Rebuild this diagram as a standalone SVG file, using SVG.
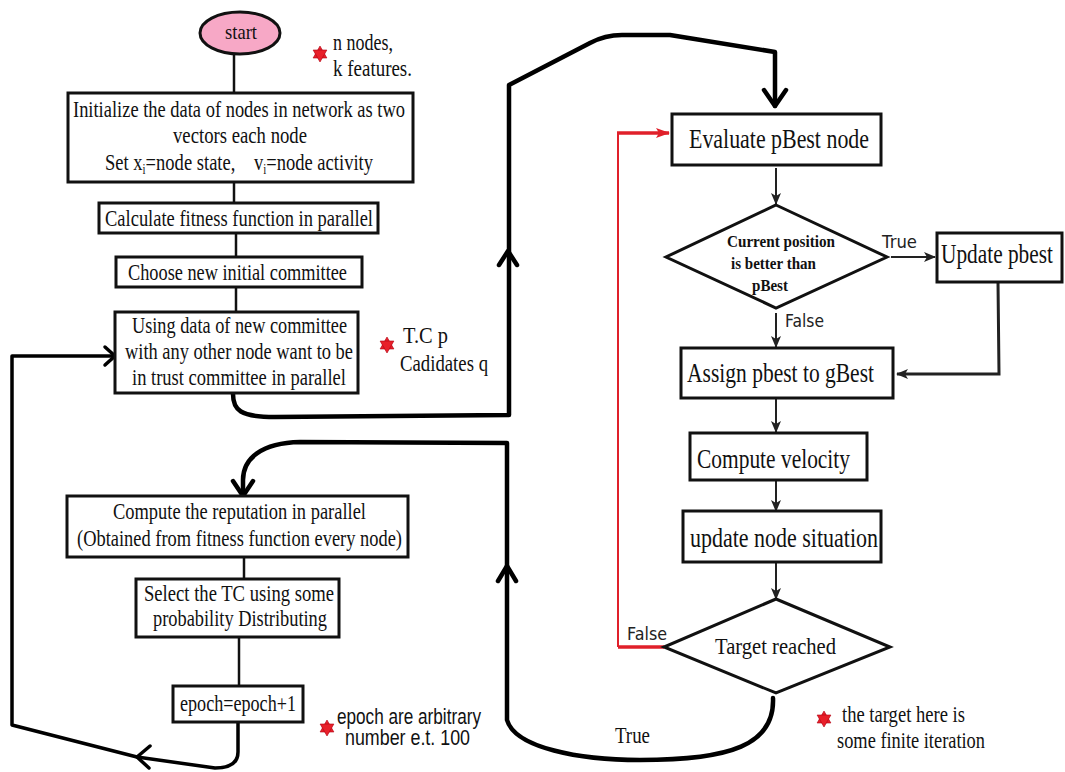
<svg xmlns="http://www.w3.org/2000/svg" xmlns:xlink="http://www.w3.org/1999/xlink" width="1065" height="772" viewBox="0 0 1065 772">
  <style>
    .box { fill: #ffffff; stroke: #111; stroke-width: 3; }
    .dia { fill: #ffffff; stroke: #111; stroke-width: 3; stroke-linejoin: miter; }
    .t { font-family: "Liberation Serif", "Times New Roman", serif; font-size: 24px; fill: #111; }
    .big { font-size: 27px; }
    .tb { font-family: "Liberation Serif", "Times New Roman", serif; font-size: 16px; font-weight: bold; fill: #111; }
    .s { font-family: "DejaVu Sans", "Liberation Sans", sans-serif; font-size: 17px; fill: #222; }
    .n { font-family: "Liberation Sans", Arial, sans-serif; font-size: 22px; fill: #111; }
    .ln { fill: none; stroke: #111; stroke-width: 2.5; }
    .thick { fill: none; stroke: #000; stroke-width: 4.5; stroke-linejoin: round; stroke-linecap: round; }
    .thin { fill: none; stroke: #222; stroke-width: 2; }
    .red { fill: none; stroke: #e0202a; }
  </style>
  <defs>
    <marker id="ah" viewBox="0 0 12 10" refX="11" refY="5" markerWidth="12" markerHeight="10" markerUnits="userSpaceOnUse" orient="auto">
      <path d="M0,0 L12,5 L0,10 L3,5 z" fill="#222"/>
    </marker>
    <marker id="ahRed" viewBox="0 0 14 10" refX="13" refY="5" markerWidth="14" markerHeight="10" markerUnits="userSpaceOnUse" orient="auto">
      <path d="M0,0 L14,5 L0,10 L3,5 z" fill="#e0202a"/>
    </marker>
    <!-- six-pointed note marker -->
    <g id="hex">
      <polygon points="0,-8 6.9,4 -6.9,4" fill="#e8202a" stroke="#b00010" stroke-width="0.6"/>
      <polygon points="0,8 6.9,-4 -6.9,-4" fill="#e8202a" stroke="#b00010" stroke-width="0.6"/>
    </g>
  </defs>

  <rect width="1065" height="772" fill="#ffffff"/>

  <!-- connectors -->
  <g id="connectors">
    <!-- main left column -->
    <line class="ln" x1="234" y1="55" x2="234" y2="93"/>
    <line class="ln" x1="234" y1="182" x2="234" y2="203"/>
    <line class="ln" x1="236" y1="233" x2="236" y2="257"/>
    <line class="ln" x1="236" y1="287" x2="236" y2="312"/>
    <line class="ln" x1="244" y1="557" x2="244" y2="579"/>
    <line class="ln" x1="239" y1="637" x2="239" y2="686"/>

    <!-- committee to PSO loop -->
    <path class="thick" d="M233,394 C233,410 240,417 275,417 L509,415 L509,85 L590,43 Q605,35 622,35 L670,35 L775,52 L775,106"/>
    <path class="thick" d="M764,90 L775,106 L786,90"/>
    <path class="thick" d="M499,265 L508,251 L517,265"/>

    <!-- target reached (True) back to reputation -->
    <path class="thick" d="M773,698 C775,745 730,760 640,760 C580,760 515,748 507,720 L507,443 L300,442 C262,443 243,458 243,480 L243,495"/>
    <path class="thick" d="M233,481 L243,496 L253,481"/>
    <path class="thick" d="M498,581 L507,566 L516,581"/>

    <!-- epoch loop back to committee -->
    <path class="thick" style="stroke-width:3.5" d="M238,722 L238,752 Q238,768 215,768 L137,757 L12,725 L12,356 L113,356"/>
    <path class="thick" style="stroke-width:3.5" d="M150,746 L137,757 L149,768"/>
    <path class="thick" style="stroke-width:3.5" d="M105,347 L115,356 L105,365"/>

    <!-- right column -->
    <line class="thin" x1="776" y1="168" x2="776" y2="204" marker-end="url(#ah)"/>
    <line class="thin" x1="776" y1="313" x2="776" y2="347" marker-end="url(#ah)"/>
    <line class="thin" x1="891" y1="257" x2="935" y2="257" marker-end="url(#ah)"/>
    <path class="thin" style="stroke-width:3" d="M998,282 L999,374 L897,374" marker-end="url(#ah)"/>
    <line class="thin" x1="776" y1="398" x2="776" y2="432" marker-end="url(#ah)"/>
    <line class="thin" x1="776" y1="480" x2="776" y2="511" marker-end="url(#ah)"/>
    <line class="thin" x1="776" y1="562" x2="776" y2="599" marker-end="url(#ah)"/>

    <!-- target not reached (False) back to evaluate -->
    <path class="red" style="stroke-width:3.5" d="M664,647 L618,647"/>
    <path class="red" style="stroke-width:2" d="M618,647 L618,133"/>
    <path class="red" style="stroke-width:3.5" d="M617,133 L669,133" marker-end="url(#ahRed)"/>

    <!-- branch labels -->
    <text class="s" x="882" y="248" textLength="35" lengthAdjust="spacingAndGlyphs">True</text>
    <text class="s" x="785" y="327" textLength="39" lengthAdjust="spacingAndGlyphs">False</text>
    <text class="s" x="627" y="640" textLength="40" lengthAdjust="spacingAndGlyphs">False</text>
    <text class="t" x="615" y="743" textLength="35" lengthAdjust="spacingAndGlyphs">True</text>
  </g>

  <!-- nodes -->
  <g id="start">
    <ellipse cx="240" cy="33" rx="40" ry="21" fill="#f7a8c6" stroke="#111" stroke-width="3"/>
    <text class="t" x="225" y="39" style="font-size:22px" textLength="32" lengthAdjust="spacingAndGlyphs">start</text>
  </g>

  <g id="init">
    <rect class="box" x="68" y="93" width="345" height="89"/>
    <text class="t" x="73" y="117" textLength="332" lengthAdjust="spacingAndGlyphs">Initialize the data of nodes in network as two</text>
    <text class="t" x="173" y="143" textLength="134" lengthAdjust="spacingAndGlyphs">vectors each node</text>
    <text class="t" x="105" y="170" textLength="268" lengthAdjust="spacingAndGlyphs">Set x<tspan dy="4" font-size="14">i</tspan><tspan dy="-4">=node state,</tspan><tspan dx="24">v</tspan><tspan dy="4" font-size="14">i</tspan><tspan dy="-4">=node activity</tspan></text>
  </g>

  <g id="calc">
    <rect class="box" x="99" y="203" width="279" height="30"/>
    <text class="t" x="105" y="226" textLength="268" lengthAdjust="spacingAndGlyphs">Calculate fitness function in parallel</text>
  </g>

  <g id="choose">
    <rect class="box" x="116" y="257" width="246" height="30"/>
    <text class="t" x="128" y="280" textLength="219" lengthAdjust="spacingAndGlyphs">Choose new initial committee</text>
  </g>

  <g id="using">
    <rect class="box" x="115" y="312" width="243" height="81"/>
    <text class="t" x="132" y="333" textLength="215" lengthAdjust="spacingAndGlyphs">Using data of new committee</text>
    <text class="t" x="125" y="359" textLength="228" lengthAdjust="spacingAndGlyphs">with any other node want to be</text>
    <text class="t" x="132" y="385" textLength="214" lengthAdjust="spacingAndGlyphs">in trust committee in parallel</text>
  </g>

  <g id="reputation">
    <rect class="box" x="67" y="496" width="341" height="61"/>
    <text class="t" x="113" y="519" textLength="253" lengthAdjust="spacingAndGlyphs">Compute the reputation in parallel</text>
    <text class="t" x="77" y="546" textLength="325" lengthAdjust="spacingAndGlyphs">(Obtained from fitness function every node)</text>
  </g>

  <g id="select">
    <rect class="box" x="136" y="579" width="203" height="58"/>
    <text class="t" x="144" y="601" textLength="190" lengthAdjust="spacingAndGlyphs">Select the TC using some</text>
    <text class="t" x="153" y="626" textLength="174" lengthAdjust="spacingAndGlyphs">probability Distributing</text>
  </g>

  <g id="epoch">
    <rect class="box" x="173" y="686" width="130" height="36"/>
    <text class="t" x="180" y="711" textLength="116" lengthAdjust="spacingAndGlyphs">epoch=epoch+1</text>
  </g>

  <g id="evaluate">
    <rect class="box" x="672" y="114" width="209" height="51"/>
    <text class="t big" x="689" y="148" textLength="180" lengthAdjust="spacingAndGlyphs">Evaluate pBest node</text>
  </g>

  <g id="better">
    <polygon class="dia" points="776,205 887,257 776,308 666,257"/>
    <text class="tb" x="727" y="247" textLength="108" lengthAdjust="spacingAndGlyphs">Current position</text>
    <text class="tb" x="731" y="269" textLength="85" lengthAdjust="spacingAndGlyphs">is better than</text>
    <text class="tb" x="752" y="291" textLength="36" lengthAdjust="spacingAndGlyphs">pBest</text>
  </g>

  <g id="update-pbest">
    <rect class="box" x="937" y="233" width="125" height="49"/>
    <text class="t big" x="941" y="263" textLength="112" lengthAdjust="spacingAndGlyphs">Update pbest</text>
  </g>

  <g id="assign">
    <rect class="box" x="681" y="348" width="212" height="50"/>
    <text class="t big" x="687" y="382" textLength="187" lengthAdjust="spacingAndGlyphs">Assign pbest to gBest</text>
  </g>

  <g id="velocity">
    <rect class="box" x="690" y="433" width="177" height="47"/>
    <text class="t big" x="697" y="468" textLength="153" lengthAdjust="spacingAndGlyphs">Compute velocity</text>
  </g>

  <g id="situation">
    <rect class="box" x="683" y="511" width="198" height="51"/>
    <text class="t big" x="690" y="547" textLength="188" lengthAdjust="spacingAndGlyphs">update node situation</text>
  </g>

  <g id="target">
    <polygon class="dia" points="776,599 890,647 776,693 664,647"/>
    <text class="t" x="715" y="654" textLength="121" lengthAdjust="spacingAndGlyphs">Target reached</text>
  </g>

  <!-- side notes -->
  <g id="note-nodes">
    <use xlink:href="#hex" x="320" y="54"/>
    <text class="t" x="333" y="50" textLength="60" lengthAdjust="spacingAndGlyphs">n nodes,</text>
    <text class="t" x="333" y="76" textLength="79" lengthAdjust="spacingAndGlyphs">k features.</text>
  </g>

  <g id="note-committee">
    <use xlink:href="#hex" x="387" y="345"/>
    <text class="t" x="403" y="343" textLength="45" lengthAdjust="spacingAndGlyphs">T.C p</text>
    <text class="t" x="400" y="371" textLength="88" lengthAdjust="spacingAndGlyphs">Cadidates q</text>
  </g>

  <g id="note-epoch">
    <use xlink:href="#hex" x="327" y="728"/>
    <text class="n" x="337" y="724" textLength="144" lengthAdjust="spacingAndGlyphs">epoch are arbitrary</text>
    <text class="n" x="345" y="745" textLength="125" lengthAdjust="spacingAndGlyphs">number e.t. 100</text>
  </g>

  <g id="note-target">
    <use xlink:href="#hex" x="824" y="719"/>
    <text class="t" x="842" y="722" textLength="123" lengthAdjust="spacingAndGlyphs">the target here is</text>
    <text class="t" x="837" y="748" textLength="148" lengthAdjust="spacingAndGlyphs">some finite iteration</text>
  </g>
</svg>
